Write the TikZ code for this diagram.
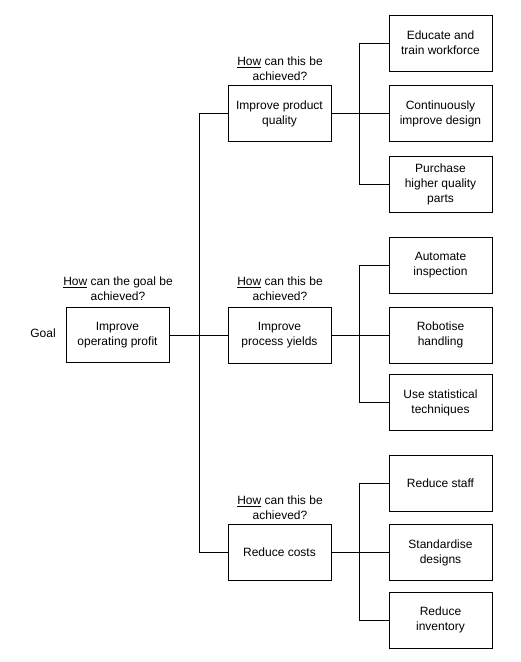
\documentclass[tikz,border=0pt]{standalone}
\usepackage{fontspec}
\setmainfont{Liberation Sans}
\begin{document}
\begin{tikzpicture}[x=1pt,y=-1pt,
  box/.style={draw,line width=1pt,minimum width=103pt,minimum height=56pt,inner sep=0pt,align=center,font=\fontsize{12}{15}\selectfont},
  lbl/.style={align=center,inner sep=0pt,font=\fontsize{12}{15}\selectfont},
  conn/.style={draw,line width=1pt}]
\useasboundingbox (0,0) rectangle (520,662);
% goal
\node[lbl] (goal) at (43,333) {Goal};
\node[box,minimum height=55pt] (g) at (117.5,335) {Improve\\operating profit};
\node[lbl] (gq) at (118,288.5) {\underline{How} can the goal be\\achieved?};
% middle level
\node[box] (m1) at (279.5,113.5) {Improve product\\quality};
\node[box] (m2) at (279.5,335) {Improve\\process yields};
\node[box] (m3) at (279.5,552.5) {Reduce costs};
\node[lbl] (q1) at (280,68.5) {\underline{How} can this be\\achieved?};
\node[lbl] (q2) at (280,288.5) {\underline{How} can this be\\achieved?};
\node[lbl] (q3) at (280,507.5) {\underline{How} can this be\\achieved?};
% right level
\node[box] (r11) at (440.5,43) {Educate and\\train workforce};
\node[box] (r12) at (440.5,113.5) {Continuously\\improve design};
\node[box] (r13) at (440.5,184.5) {Purchase\\higher quality\\parts};
\node[box] (r21) at (440.5,265) {Automate\\inspection};
\node[box] (r22) at (440.5,335) {Robotise\\handling};
\node[box] (r23) at (440.5,402.5) {Use statistical\\techniques};
\node[box] (r31) at (440.5,483) {Reduce staff};
\node[box] (r32) at (440.5,552.5) {Standardise\\designs};
\node[box] (r33) at (440.5,620) {Reduce\\inventory};
% connectors
\draw[conn] (g.east) -- (m2.west);
\draw[conn] (m1.west) -- ++(-28,0) |- (m3.west);
\draw[conn] (m1.east) -- (r12.west);
\draw[conn] (r11.west) -- ++(-29,0) |- (r13.west);
\draw[conn] (m2.east) -- (r22.west);
\draw[conn] (r21.west) -- ++(-29,0) |- (r23.west);
\draw[conn] (m3.east) -- (r32.west);
\draw[conn] (r31.west) -- ++(-29,0) |- (r33.west);
\end{tikzpicture}
\end{document}
